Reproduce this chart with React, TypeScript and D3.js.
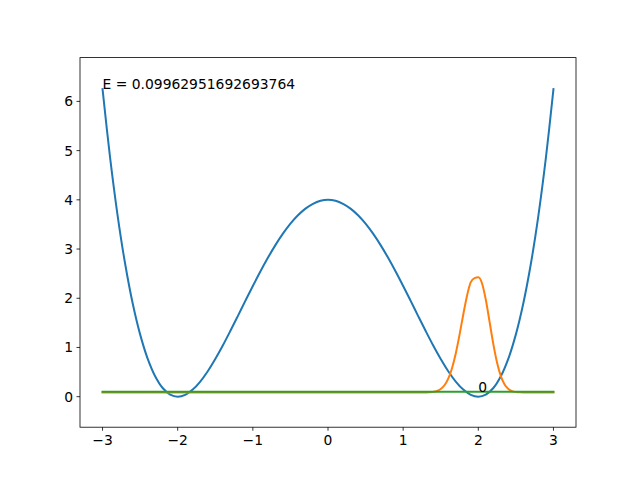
import React from "react";
import * as d3 from "d3";

const potentialX = [
  -3.0, -2.9, -2.8, -2.7, -2.6, -2.5, -2.4, -2.3, -2.2, -2.1, -2.0, -1.9, -1.8, -1.7, -1.6, -1.5,
  -1.4, -1.3, -1.2, -1.1, -1.0, -0.9, -0.8, -0.7, -0.6, -0.5, -0.4, -0.3, -0.2, -0.1, 0.0,
  0.1, 0.2, 0.3, 0.4, 0.5, 0.6, 0.7, 0.8, 0.9, 1.0, 1.1, 1.2, 1.3, 1.4, 1.5, 1.6, 1.7, 1.8,
  1.9, 2.0, 2.1, 2.2, 2.3, 2.4, 2.5, 2.6, 2.7, 2.8, 2.9, 3.0,
];
const potentialV = [
  6.25, 4.862, 3.686, 2.706, 1.904, 1.266, 0.774, 0.416, 0.176, 0.042, 0.0, 0.038, 0.144, 0.308,
  0.518, 0.766, 1.04, 1.334, 1.638, 1.946, 2.25, 2.544, 2.822, 3.08, 3.312, 3.516, 3.686, 3.822,
  3.92, 3.98, 4.0, 3.98, 3.92, 3.822, 3.686, 3.516, 3.312, 3.08, 2.822, 2.544, 2.25, 1.946, 1.638,
  1.334, 1.04, 0.766, 0.518, 0.308, 0.144, 0.038, 0.0, 0.042, 0.176, 0.416, 0.774, 1.266, 1.904,
  2.706, 3.686, 4.862, 6.25,
];

const waveX = [
  -3.0, 1.2, 1.3, 1.35, 1.4, 1.45, 1.5, 1.55, 1.6, 1.65, 1.7, 1.75, 1.8, 1.85, 1.9, 1.95, 2.0,
  2.05, 2.1, 2.15, 2.2, 2.25, 2.3, 2.35, 2.4, 2.45, 2.5, 2.55, 2.6, 2.7, 3.0,
];
const waveY = [
  0.085, 0.085, 0.085, 0.09, 0.098, 0.116, 0.155, 0.232, 0.366, 0.578, 0.879, 1.256, 1.671, 2.053,
  2.327, 2.41, 2.425, 2.301, 1.969, 1.523, 1.069, 0.69, 0.419, 0.25, 0.158, 0.114, 0.096, 0.088,
  0.085, 0.085, 0.085,
];

const energyX = [-3.0, 3.0];
const energyY = [0.09962951692693764, 0.09962951692693764];

const energyLabel = "E = 0.09962951692693764";
const stateLabel = "0";
const xTicks = [-3, -2, -1, 0, 1, 2, 3];
const yTicks = [0, 1, 2, 3, 4, 5, 6];

const W = 640;
const H = 480;
const L = 80;
const R = 576;
const T = 57.6;
const B = 427.2;
const FS = 13.89;

const fmt = (v: number) => (v < 0 ? "\u2212" + Math.abs(v) : String(v));

export default function App() {
  const x = d3.scaleLinear().domain([-3.3, 3.3]).range([L, R]);
  const y = d3.scaleLinear().domain([-0.62, 6.89]).range([B, T]);

  const smooth = d3
    .line<[number, number]>()
    .x((d) => x(d[0]))
    .y((d) => y(d[1]))
    .curve(d3.curveCatmullRom);
  const mono = d3
    .line<[number, number]>()
    .x((d) => x(d[0]))
    .y((d) => y(d[1]))
    .curve(d3.curveMonotoneX);

  const blue = smooth(potentialX.map((v, i) => [v, potentialV[i]] as [number, number])) || "";
  const orange = mono(waveX.map((v, i) => [v, waveY[i]] as [number, number])) || "";
  const green = mono(energyX.map((v, i) => [v, energyY[i]] as [number, number])) || "";

  const font = "DejaVu Sans, sans-serif";

  return (
    <svg
      width={W}
      height={H}
      style={{ position: "absolute", left: 0, top: 0, background: "#fff" }}
      fontFamily={font}
    >
      <rect x={0} y={0} width={W} height={H} fill="#fff" />
      <defs>
        <clipPath id="plotclip">
          <rect x={L} y={T} width={R - L} height={B - T} />
        </clipPath>
      </defs>
      <g clipPath="url(#plotclip)" fill="none" strokeWidth={2} strokeLinejoin="round" strokeLinecap="square">
        <path d={blue} stroke="#1f77b4" />
        <path d={orange} stroke="#ff7f0e" />
        <path d={green} stroke="#2ca02c" />
      </g>
      <text x={x(-3)} y={y(6.25)} fontSize={FS} fill="#000">
        {energyLabel}
      </text>
      <text x={x(2)} y={y(energyY[0])} fontSize={FS} fill="#000">
        {stateLabel}
      </text>
      <rect x={L} y={T} width={R - L} height={B - T} fill="none" stroke="#000" strokeWidth={0.8} />
      {xTicks.map((t) => (
        <g key={"x" + t}>
          <line x1={x(t)} x2={x(t)} y1={B} y2={B + 3.5} stroke="#000" strokeWidth={0.8} />
          <text x={x(t)} y={B + 7} dy="0.76em" textAnchor="middle" fontSize={FS} fill="#000">
            {fmt(t)}
          </text>
        </g>
      ))}
      {yTicks.map((t) => (
        <g key={"y" + t}>
          <line x1={L - 3.5} x2={L} y1={y(t)} y2={y(t)} stroke="#000" strokeWidth={0.8} />
          <text x={L - 7} y={y(t)} dy="0.36em" textAnchor="end" fontSize={FS} fill="#000">
            {fmt(t)}
          </text>
        </g>
      ))}
    </svg>
  );
}
